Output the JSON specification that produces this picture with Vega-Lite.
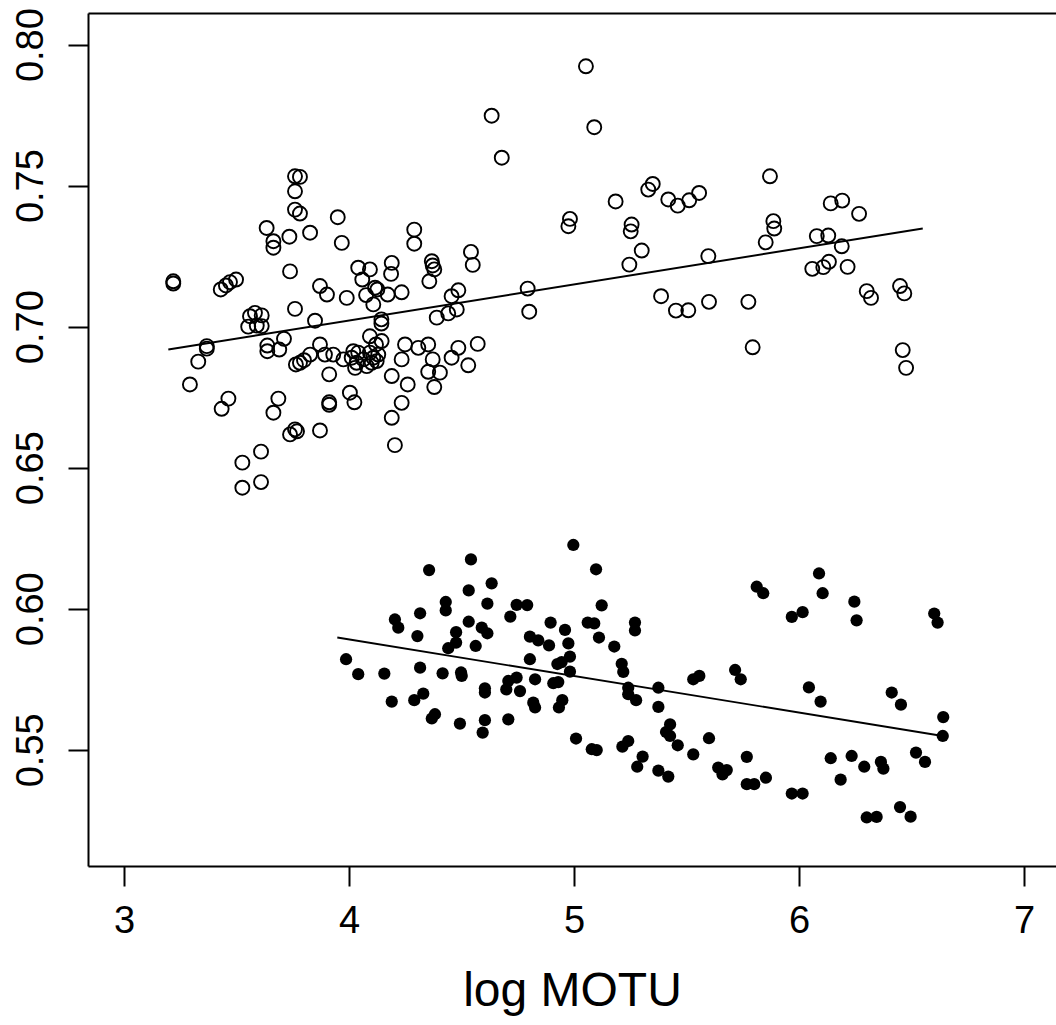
{
  "$schema": "https://vega.github.io/schema/vega-lite/v6.json",
  "autosize": "none",
  "width": 968,
  "height": 853,
  "padding": {"left": 88, "top": 13, "right": 0, "bottom": 159},
  "background": "white",
  "config": {
    "view": {"stroke": null},
    "axis": {
      "grid": false,
      "domainColor": "black",
      "domainWidth": 2,
      "tickColor": "black",
      "tickWidth": 2,
      "tickSize": 20,
      "labelColor": "black",
      "titleColor": "black",
      "labelFont": "Liberation Sans",
      "titleFont": "Liberation Sans",
      "labelFontSize": 38,
      "titleFontSize": 48,
      "titleFontWeight": "normal",
      "labelOverlap": false,
      "labelFlush": false
    }
  },
  "datasets": {
    "open": [
      {"x":3.760,"y":0.7533},{"x":3.782,"y":0.7531},{"x":3.760,"y":0.7480},{"x":3.760,"y":0.7415},{"x":3.782,"y":0.7401},{"x":3.634,"y":0.7350},{"x":3.664,"y":0.7303},{"x":3.664,"y":0.7280},{"x":3.735,"y":0.7319},{"x":3.827,"y":0.7333},{"x":3.950,"y":0.7388},{"x":3.968,"y":0.7297},{"x":3.738,"y":0.7196},{"x":3.219,"y":0.7161},{"x":3.219,"y":0.7153},{"x":3.430,"y":0.7132},{"x":3.453,"y":0.7146},{"x":3.471,"y":0.7158},{"x":3.498,"y":0.7167},{"x":3.871,"y":0.7144},{"x":3.902,"y":0.7114},{"x":3.760,"y":0.7063},{"x":3.849,"y":0.7021},{"x":3.560,"y":0.7037},{"x":3.582,"y":0.7049},{"x":3.612,"y":0.7040},{"x":3.552,"y":0.7000},{"x":3.590,"y":0.7004},{"x":3.612,"y":0.7002},{"x":3.368,"y":0.6931},{"x":3.368,"y":0.6922},{"x":3.330,"y":0.6876},{"x":3.293,"y":0.6795},{"x":3.637,"y":0.6933},{"x":3.637,"y":0.6913},{"x":3.690,"y":0.6919},{"x":3.711,"y":0.6957},{"x":3.764,"y":0.6866},{"x":3.782,"y":0.6872},{"x":3.800,"y":0.6881},{"x":3.827,"y":0.6901},{"x":3.871,"y":0.6937},{"x":3.893,"y":0.6901},{"x":3.912,"y":0.6831},{"x":3.464,"y":0.6745},{"x":3.434,"y":0.6709},{"x":3.686,"y":0.6745},{"x":3.664,"y":0.6695},{"x":3.738,"y":0.6618},{"x":3.760,"y":0.6636},{"x":3.769,"y":0.6629},{"x":3.871,"y":0.6632},{"x":3.912,"y":0.6732},{"x":3.912,"y":0.6723},{"x":3.609,"y":0.6557},{"x":3.526,"y":0.6518},{"x":3.609,"y":0.6449},{"x":3.526,"y":0.6429},
      {"x":4.368,"y":0.7232},{"x":4.372,"y":0.7217},{"x":4.379,"y":0.7203},{"x":4.357,"y":0.7161},{"x":4.290,"y":0.7344},{"x":4.290,"y":0.7294},{"x":4.542,"y":0.7265},{"x":4.550,"y":0.7219},{"x":4.041,"y":0.7209},{"x":4.093,"y":0.7203},{"x":4.059,"y":0.7167},{"x":4.190,"y":0.7226},{"x":4.187,"y":0.7187},{"x":3.990,"y":0.7102},{"x":4.076,"y":0.7112},{"x":4.116,"y":0.7138},{"x":4.126,"y":0.7132},{"x":4.108,"y":0.7079},{"x":4.172,"y":0.7114},{"x":4.234,"y":0.7122},{"x":4.486,"y":0.7129},{"x":4.456,"y":0.7108},{"x":4.479,"y":0.7061},{"x":4.441,"y":0.7047},{"x":4.390,"y":0.7032},{"x":4.144,"y":0.7026},{"x":4.144,"y":0.7011},{"x":4.093,"y":0.6966},{"x":4.145,"y":0.6949},{"x":4.120,"y":0.6937},
      {"x":3.930,"y":0.6901},{"x":3.975,"y":0.6884},{"x":4.019,"y":0.6913},{"x":4.041,"y":0.6908},{"x":4.012,"y":0.6890},{"x":4.034,"y":0.6872},{"x":4.064,"y":0.6884},{"x":4.093,"y":0.6908},{"x":4.108,"y":0.6890},{"x":4.130,"y":0.6901},{"x":4.123,"y":0.6878},{"x":4.101,"y":0.6872},{"x":4.027,"y":0.6854},{"x":4.079,"y":0.6860},
      {"x":4.249,"y":0.6937},{"x":4.308,"y":0.6925},{"x":4.352,"y":0.6937},{"x":4.234,"y":0.6884},{"x":4.372,"y":0.6884},{"x":4.352,"y":0.6840},{"x":4.404,"y":0.6837},{"x":4.379,"y":0.6786},{"x":4.486,"y":0.6925},{"x":4.456,"y":0.6890},{"x":4.530,"y":0.6863},{"x":4.572,"y":0.6939},{"x":4.190,"y":0.6825},{"x":4.261,"y":0.6795},{"x":4.004,"y":0.6766},{"x":4.024,"y":0.6732},{"x":4.234,"y":0.6730},{"x":4.190,"y":0.6677},{"x":4.204,"y":0.6580},
      {"x":5.053,"y":0.7923},{"x":4.634,"y":0.7748},{"x":5.090,"y":0.7707},{"x":4.679,"y":0.7599},{"x":5.330,"y":0.7486},{"x":5.350,"y":0.7506},{"x":5.419,"y":0.7451},{"x":5.461,"y":0.7429},{"x":5.512,"y":0.7448},{"x":5.556,"y":0.7474},{"x":5.185,"y":0.7444},{"x":4.982,"y":0.7382},{"x":4.975,"y":0.7356},{"x":5.256,"y":0.7362},{"x":5.252,"y":0.7338},{"x":5.301,"y":0.7270},{"x":5.246,"y":0.7220},{"x":4.794,"y":0.7135},{"x":4.801,"y":0.7053},{"x":5.387,"y":0.7108},{"x":5.453,"y":0.7057},{"x":5.508,"y":0.7058},
      {"x":5.871,"y":0.7533},{"x":5.886,"y":0.7374},{"x":5.890,"y":0.7348},{"x":5.852,"y":0.7299},{"x":6.141,"y":0.7437},{"x":6.192,"y":0.7447},{"x":6.267,"y":0.7400},{"x":6.079,"y":0.7321},{"x":6.130,"y":0.7323},{"x":6.190,"y":0.7285},{"x":5.597,"y":0.7250},{"x":6.059,"y":0.7205},{"x":6.108,"y":0.7211},{"x":6.133,"y":0.7230},{"x":6.216,"y":0.7212},{"x":6.301,"y":0.7126},{"x":6.320,"y":0.7102},{"x":6.449,"y":0.7144},{"x":6.468,"y":0.7118},{"x":5.600,"y":0.7088},{"x":5.775,"y":0.7088},{"x":5.794,"y":0.6927},{"x":6.461,"y":0.6917},{"x":6.476,"y":0.6854}
    ],
    "filled": [
      {"x":4.542,"y":0.6175},{"x":4.356,"y":0.6137},{"x":4.634,"y":0.6090},{"x":4.532,"y":0.6065},{"x":4.430,"y":0.6024},{"x":4.430,"y":0.5994},{"x":4.615,"y":0.6018},{"x":4.745,"y":0.6014},{"x":4.792,"y":0.6013},{"x":4.316,"y":0.5984},{"x":4.717,"y":0.5972},{"x":4.204,"y":0.5962},{"x":4.219,"y":0.5933},{"x":4.532,"y":0.5954},{"x":4.590,"y":0.5933},{"x":4.615,"y":0.5913},{"x":4.476,"y":0.5917},{"x":4.476,"y":0.5880},{"x":4.441,"y":0.5860},{"x":4.304,"y":0.5903},{"x":4.563,"y":0.5868},{"x":4.804,"y":0.5901},{"x":3.987,"y":0.5821},{"x":4.041,"y":0.5768},{"x":4.157,"y":0.5770},{"x":4.316,"y":0.5791},{"x":4.416,"y":0.5771},{"x":4.498,"y":0.5774},{"x":4.501,"y":0.5762},{"x":4.804,"y":0.5821},{"x":4.745,"y":0.5756},{"x":4.708,"y":0.5744},{"x":4.699,"y":0.5714},{"x":4.760,"y":0.5708},{"x":4.604,"y":0.5718},{"x":4.604,"y":0.5703},{"x":4.330,"y":0.5699},{"x":4.290,"y":0.5676},{"x":4.190,"y":0.5671},{"x":4.819,"y":0.5667},{"x":4.827,"y":0.5650},{"x":4.382,"y":0.5626},{"x":4.368,"y":0.5611},{"x":4.493,"y":0.5593},{"x":4.604,"y":0.5605},{"x":4.708,"y":0.5608},{"x":4.594,"y":0.5561},
      {"x":4.997,"y":0.6226},{"x":5.098,"y":0.6140},{"x":5.123,"y":0.6012},{"x":4.896,"y":0.5951},{"x":5.061,"y":0.5951},{"x":5.090,"y":0.5948},{"x":5.271,"y":0.5951},{"x":5.271,"y":0.5923},{"x":4.960,"y":0.5925},{"x":4.841,"y":0.5888},{"x":4.889,"y":0.5870},{"x":4.975,"y":0.5877},{"x":5.111,"y":0.5898},{"x":5.179,"y":0.5866},{"x":4.982,"y":0.5830},{"x":4.945,"y":0.5811},{"x":4.926,"y":0.5804},{"x":4.982,"y":0.5777},{"x":5.212,"y":0.5805},{"x":5.219,"y":0.5776},{"x":4.827,"y":0.5750},{"x":4.908,"y":0.5736},{"x":4.930,"y":0.5740},{"x":5.241,"y":0.5720},{"x":5.241,"y":0.5697},{"x":5.276,"y":0.5676},{"x":5.375,"y":0.5720},{"x":5.375,"y":0.5652},{"x":5.530,"y":0.5750},{"x":5.557,"y":0.5762},{"x":4.948,"y":0.5676},{"x":4.933,"y":0.5650},{"x":5.009,"y":0.5540},{"x":5.079,"y":0.5502},{"x":5.101,"y":0.5499},{"x":5.241,"y":0.5531},{"x":5.215,"y":0.5511},{"x":5.427,"y":0.5590},{"x":5.409,"y":0.5563},{"x":5.427,"y":0.5549},{"x":5.461,"y":0.5516},{"x":5.600,"y":0.5541},{"x":5.530,"y":0.5484},{"x":5.305,"y":0.5476},{"x":5.281,"y":0.5440},{"x":5.375,"y":0.5426},{"x":5.419,"y":0.5405},{"x":5.641,"y":0.5437},
      {"x":6.089,"y":0.6125},{"x":6.105,"y":0.6055},{"x":5.812,"y":0.6078},{"x":5.841,"y":0.6055},{"x":5.968,"y":0.5971},{"x":6.016,"y":0.5988},{"x":6.246,"y":0.6025},{"x":6.256,"y":0.5959},{"x":6.601,"y":0.5983},{"x":6.616,"y":0.5951},{"x":5.716,"y":0.5783},{"x":5.741,"y":0.5750},{"x":6.044,"y":0.5721},{"x":6.096,"y":0.5671},{"x":6.412,"y":0.5703},{"x":6.453,"y":0.5660},{"x":6.641,"y":0.5616},{"x":6.639,"y":0.5549},{"x":5.768,"y":0.5475},{"x":5.660,"y":0.5413},{"x":5.679,"y":0.5428},{"x":5.768,"y":0.5378},{"x":5.801,"y":0.5378},{"x":5.853,"y":0.5401},{"x":5.968,"y":0.5345},{"x":6.016,"y":0.5345},{"x":6.141,"y":0.5470},{"x":6.234,"y":0.5478},{"x":6.290,"y":0.5440},{"x":6.364,"y":0.5457},{"x":6.375,"y":0.5433},{"x":6.185,"y":0.5394},{"x":6.520,"y":0.5490},{"x":6.560,"y":0.5457},{"x":6.449,"y":0.5297},{"x":6.496,"y":0.5263},{"x":6.301,"y":0.5260},{"x":6.345,"y":0.5262}
    ],
    "fits": [
      {"g":"open","x":3.197,"y":0.6919},{"g":"open","x":6.550,"y":0.7348},
      {"g":"filled","x":3.948,"y":0.5898},{"g":"filled","x":6.639,"y":0.5549}
    ]
  },
  "resolve": {"axis": {"x": "independent"}},
  "layer": [
    {
      "data": {"name": "open"},
      "mark": {"type": "point", "shape": "circle", "filled": false, "stroke": "black", "strokeWidth": 1.9, "size": 196, "opacity": 1},
      "encoding": {
        "x": {"field": "x", "type": "quantitative", "scale": {"domain": [2.84, 7.1422], "nice": false, "zero": false},
              "axis": {"orient": "bottom", "values": [3, 4, 5, 6, 7], "format": "d", "labelBaseline": "alphabetic", "labelPadding": 46, "title": "log MOTU", "titleBaseline": "alphabetic", "titleY": 139}},
        "y": {"field": "y", "type": "quantitative", "scale": {"domain": [0.5088, 0.8112], "nice": false, "zero": false},
              "axis": {"orient": "left", "values": [0.55, 0.6, 0.65, 0.7, 0.75, 0.8], "format": ".2f", "labelAngle": 270, "labelAlign": "center", "labelBaseline": "alphabetic", "labelPadding": 26, "title": null}}
      }
    },
    {
      "data": {"name": "filled"},
      "mark": {"type": "circle", "color": "black", "size": 150, "opacity": 1},
      "encoding": {
        "x": {"field": "x", "type": "quantitative", "scale": {"domain": [2.84, 7.1422], "nice": false, "zero": false}, "axis": null},
        "y": {"field": "y", "type": "quantitative", "scale": {"domain": [0.5088, 0.8112], "nice": false, "zero": false}}
      }
    },
    {
      "data": {"name": "fits"},
      "mark": {"type": "line", "color": "black", "strokeWidth": 1.9},
      "encoding": {
        "x": {"field": "x", "type": "quantitative", "scale": {"domain": [2.84, 7.1422], "nice": false, "zero": false},
              "axis": {"orient": "top", "ticks": false, "labels": false, "title": null, "domain": true}},
        "y": {"field": "y", "type": "quantitative", "scale": {"domain": [0.5088, 0.8112], "nice": false, "zero": false}},
        "detail": {"field": "g", "type": "nominal"}
      }
    }
  ]
}
